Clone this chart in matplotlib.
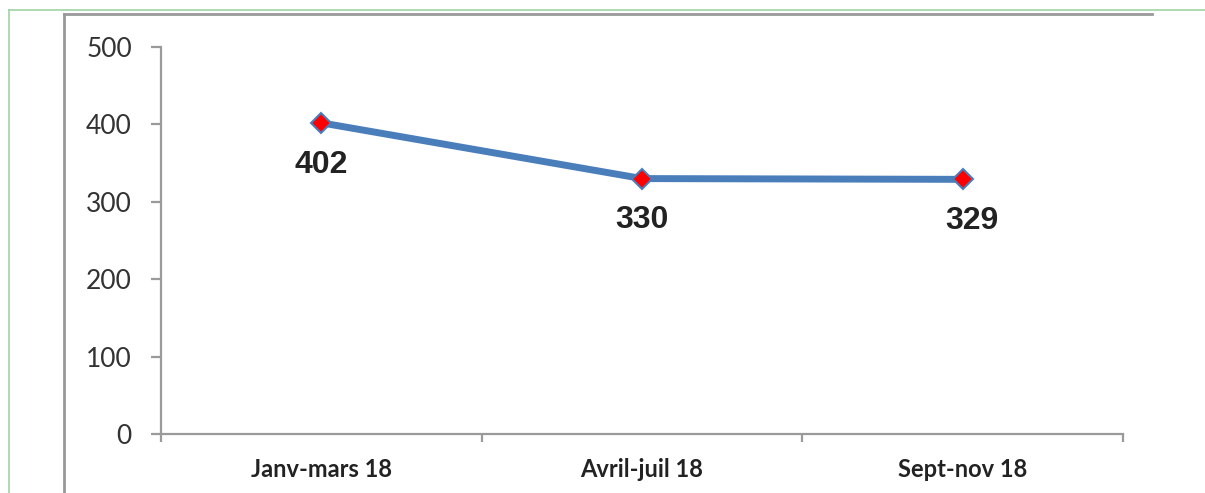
import numpy as np
import matplotlib.pyplot as plt
from matplotlib.lines import Line2D

# data
categories = ["Janv-mars 18", "Avril-juil 18", "Sept-nov 18"]
values = [402, 330, 329]
y_ticks = [0, 100, 200, 300, 400, 500]

W, H = 1205, 493
fig = plt.figure(figsize=(W / 100, H / 100), dpi=100)
fig.patch.set_facecolor("white")


def px(x, y):
    return x / W, 1 - y / H


# page decoration: thin green border and gray chart frame
fig.add_artist(Line2D([px(9, 0)[0], 1], [px(0, 10)[1]] * 2, color="#9ed3a5", lw=1.2))
fig.add_artist(Line2D([px(9, 0)[0]] * 2, [0, px(0, 10)[1]], color="#9ed3a5", lw=1.2))
fig.add_artist(Line2D([px(64, 0)[0], px(1152, 0)[0]], [px(0, 14)[1]] * 2, color="#999999", lw=2))
fig.add_artist(Line2D([px(64, 0)[0]] * 2, [0, px(0, 14)[1]], color="#999999", lw=2))

left, right = 161 / W, 1123 / W
bottom, top = 1 - 434 / H, 1 - 47 / H
ax = fig.add_axes([left, bottom, right - left, top - bottom])

x = np.arange(len(categories))
ax.plot(x, values, color="#4a7ebb", lw=5, zorder=3)
ax.plot(x, values, ls="none", marker="D", ms=10, mfc="#ff0000",
        mec="#4a7ebb", mew=1.5, zorder=4)

offsets = [0, 0, 7]
for xi, v, dx in zip(x, values, offsets):
    ax.annotate(str(v), (xi, v), xytext=(dx, -30), textcoords="offset points",
                ha="center", va="center", fontsize=23, fontweight="bold",
                family="Liberation Sans", color="#222222")

ax.set_xlim(-0.5, len(categories) - 0.5)
ax.set_ylim(0, 500)
ax.set_yticks(y_ticks)
ax.set_yticklabels([str(t) for t in y_ticks], fontsize=19, family="Lato",
                   color="#333333")
ax.set_xticks(np.arange(len(categories) + 1) - 0.5)
ax.set_xticklabels([])
ax.set_xticks(x, minor=True)
ax.set_xticklabels(categories, minor=True, fontsize=17, fontweight="bold",
                   family="Lato", color="#222222")

for s in ["top", "right"]:
    ax.spines[s].set_visible(False)
for s in ["left", "bottom"]:
    ax.spines[s].set_color("#9a9a9a")
    ax.spines[s].set_linewidth(1.6)

ax.tick_params(axis="y", direction="out", length=7, width=1.6, color="#9a9a9a", pad=14)
ax.tick_params(axis="x", which="major", direction="out", length=6, width=1.6, color="#9a9a9a")
ax.tick_params(axis="x", which="minor", length=0, pad=17)

fig.savefig("out.png", dpi=100)
